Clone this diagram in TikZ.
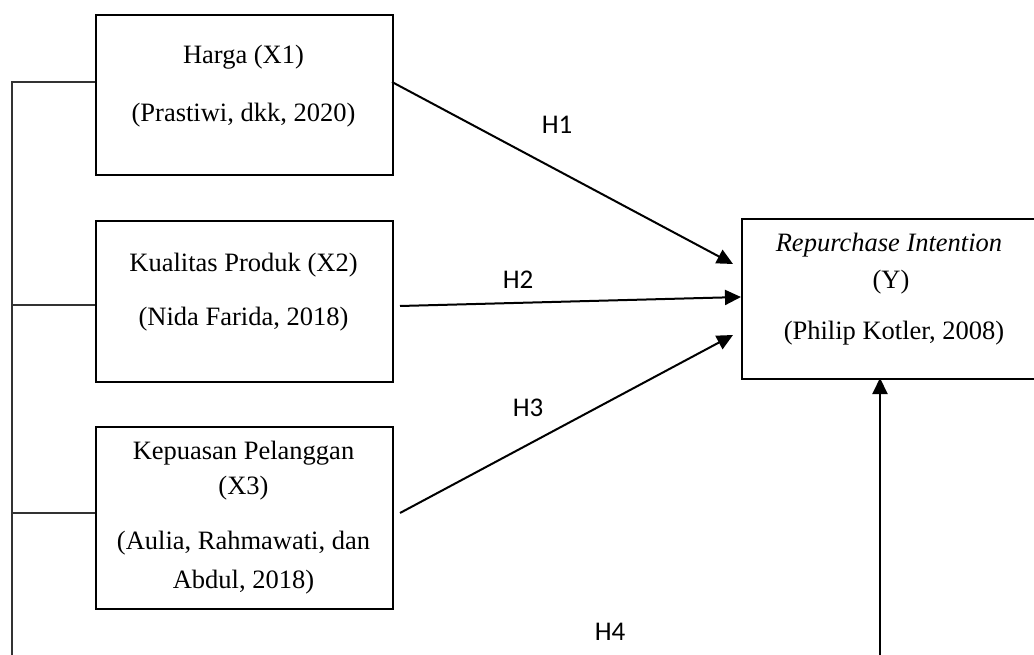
\documentclass[tikz,border=0pt]{standalone}
\usepackage{fontspec}
\setmainfont{Liberation Serif}
\newfontfamily\labfont{Carlito}
\usetikzlibrary{arrows.meta}
\begin{document}
\begin{tikzpicture}[x=1pt,y=-1pt,
  boxstyle/.style={draw,line width=2pt,minimum width=#1,inner sep=0pt,anchor=north west},
  txt/.style={inner sep=0pt,font=\fontsize{26.5}{32}\selectfont},
  hlab/.style={inner sep=0pt,font=\labfont\fontsize{27}{32}\selectfont},
  arr/.style={line width=2pt,-{Triangle[length=16pt,width=15pt]}},
  thin/.style={line width=1.1pt,black!80}]
\useasboundingbox (0,0) rectangle (1034,655);
\clip (0,0) rectangle (1034,655);
% boxes
\node[boxstyle=297pt,minimum height=160pt] (b1) at (95,14) {};
\node[boxstyle=297pt,minimum height=161pt] (b2) at (95,220) {};
\node[boxstyle=297pt,minimum height=182pt] (b3) at (95,426) {};
\node[boxstyle=300pt,minimum height=160pt] (by) at (741,218) {};
% texts
\node[txt] (t1a) at (243.5,57) {Harga (X1)};
\node[txt] (t1b) at (243.5,115) {(Prastiwi, dkk, 2020)};
\node[txt] (t2a) at (243.5,265) {Kualitas Produk (X2)};
\node[txt] (t2b) at (243.5,319) {(Nida Farida, 2018)};
\node[txt] (t3a) at (243.5,453) {Kepuasan Pelanggan};
\node[txt] (t3b) at (243.5,488) {(X3)};
\node[txt] (t3c) at (243.5,543) {(Aulia, Rahmawati, dan};
\node[txt] (t3d) at (243.5,582) {Abdul, 2018)};
\node[txt] (tya) at (889,245) {\itshape Repurchase Intention};
\node[txt] (tyb) at (891,282) {(Y)};
\node[txt] (tyc) at (894,333) {(Philip Kotler, 2008)};
% hypothesis labels
\node[hlab] (h1) at (557,125) {H1};
\node[hlab] (h2) at (518,280) {H2};
\node[hlab] (h3) at (528,408) {H3};
\node[hlab] (h4) at (610,632) {H4};
% connector points
\coordinate (s1) at (392,82);
\coordinate (e1) at (733,264);
\coordinate (s2) at (400,306);
\coordinate (e2) at (741,297);
\coordinate (s3) at (400,513);
\coordinate (e3) at (733,335);
\coordinate (s4) at (880,665);
\coordinate (e4) at (880,378);
\coordinate (l1) at (12,82);
\coordinate (l2) at (12,305);
\coordinate (l3) at (12,513);
\coordinate (lb) at (12,665);
\coordinate (c1) at (95,82);
\coordinate (c2) at (95,305);
\coordinate (c3) at (95,513);
% arrows
\draw[arr] (s1) -- (e1);
\draw[arr] (s2) -- (e2);
\draw[arr] (s3) -- (e3);
\draw[arr] (s4) -- (e4);
% left bracket lines
\draw[thin] (c1) -- (l1) -- (lb);
\draw[thin] (l2) -- (c2);
\draw[thin] (l3) -- (c3);
\end{tikzpicture}
\end{document}
